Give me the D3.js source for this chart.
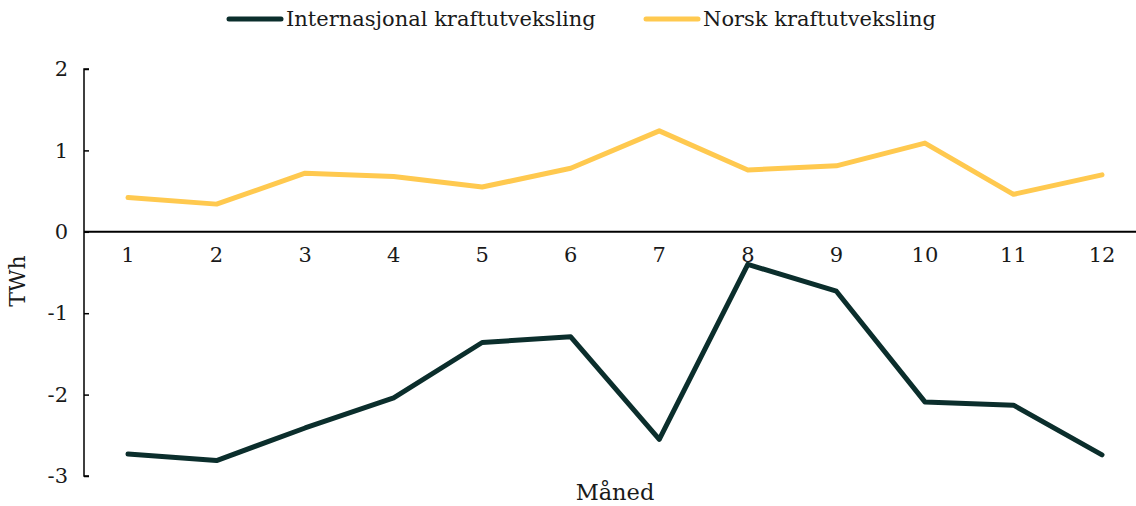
<!DOCTYPE html>
<html>
<head>
<meta charset="utf-8">
<script src="https://cdn.jsdelivr.net/npm/d3@7"></script>
<style>
  body { margin: 0; background: #fff; }
  svg text { font-family: "DejaVu Serif", serif; fill: #1a1a1a; }
</style>
</head>
<body>
<div id="chart"></div>
<script>
var months = ["1", "2", "3", "4", "5", "6", "7", "8", "9", "10", "11", "12"];
var internasjonal = [-2.73, -2.81, -2.41, -2.04, -1.36, -1.29, -2.55, -0.40, -0.73, -2.09, -2.13, -2.74];
var norsk = [0.42, 0.34, 0.72, 0.68, 0.55, 0.78, 1.24, 0.76, 0.81, 1.09, 0.46, 0.70];
var yTicks = [2, 1, 0, -1, -2, -3];

var series = [
    { name: "Internasjonal kraftutveksling", color: "#0b2e2c", values: internasjonal },
    { name: "Norsk kraftutveksling", color: "#ffc94f", values: norsk }
];

var width = 1136, height = 506;

var svg = d3.select("#chart").append("svg")
    .attr("width", width)
    .attr("height", height);

var x = d3.scalePoint()
    .domain(months)
    .range([128, 1102]);

var y = d3.scaleLinear()
    .domain([-3, 2])
    .range([476, 69]);

// y axis, ticks pointing inward
var yAxis = d3.axisRight(y)
    .tickValues(yTicks)
    .tickSize(5)
    .tickFormat(function(d) { return String(d); });

var yg = svg.append("g")
    .attr("transform", "translate(84,0)")
    .call(yAxis);
yg.select(".domain").attr("stroke", "#000").attr("stroke-width", 1.5)
    .attr("d", "M5," + y(2) + "H0V" + y(-3) + "H5");
yg.selectAll(".tick line").attr("stroke", "#000").attr("stroke-width", 1.5);
yg.selectAll(".tick text")
    .attr("x", -16)
    .attr("text-anchor", "end")
    .style("font-size", "21px")
    .style("font-family", "'DejaVu Serif', serif")
    .attr("fill", "#1a1a1a");

// zero line with month labels below
svg.append("line")
    .attr("x1", 84).attr("x2", width)
    .attr("y1", y(0)).attr("y2", y(0))
    .attr("stroke", "#000")
    .attr("stroke-width", 2);

svg.selectAll(".month")
    .data(months)
    .enter().append("text")
    .attr("class", "month")
    .attr("x", function(d) { return x(d); })
    .attr("y", y(0) + 30)
    .attr("text-anchor", "middle")
    .style("font-size", "21px")
    .text(function(d) { return d; });

// lines
var line = d3.line()
    .x(function(d, i) { return x(months[i]); })
    .y(function(d) { return y(d); });

svg.selectAll(".series")
    .data(series)
    .enter().append("path")
    .attr("class", "series")
    .attr("fill", "none")
    .attr("stroke", function(d) { return d.color; })
    .attr("stroke-width", 5)
    .attr("stroke-linejoin", "round")
    .attr("stroke-linecap", "round")
    .attr("d", function(d) { return line(d.values); });

// axis titles
svg.append("text")
    .attr("transform", "translate(25," + 281 + ") rotate(-90)")
    .attr("text-anchor", "middle")
    .style("font-size", "22px")
    .text("TWh");

svg.append("text")
    .attr("x", 615)
    .attr("y", 500)
    .attr("text-anchor", "middle")
    .style("font-size", "22.5px")
    .text("Måned");

// legend
var legendX = [229, 646];
var legend = svg.selectAll(".legend")
    .data(series)
    .enter().append("g")
    .attr("class", "legend")
    .attr("transform", function(d, i) { return "translate(" + legendX[i] + ",19)"; });

legend.append("line")
    .attr("x1", 0).attr("x2", 52)
    .attr("stroke", function(d) { return d.color; })
    .attr("stroke-width", 5)
    .attr("stroke-linecap", "round");

legend.append("text")
    .attr("x", 57)
    .attr("y", 7)
    .style("font-size", "21px")
    .text(function(d) { return d.name; });
</script>
</body>
</html>
